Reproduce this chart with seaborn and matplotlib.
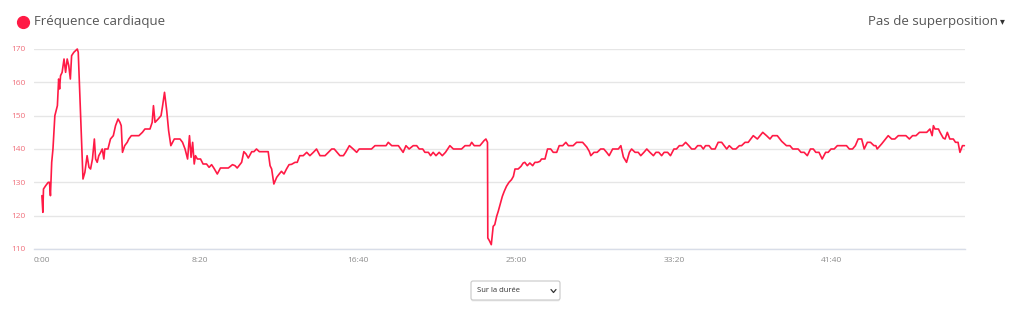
import matplotlib
matplotlib.use("Agg")
import matplotlib.pyplot as plt
import seaborn as sns
import pandas as pd
from matplotlib.patches import FancyBboxPatch
from matplotlib.lines import Line2D
from matplotlib.transforms import IdentityTransform

# ---------------- data ----------------
time_s = [
    0, 3, 5, 12, 20, 24, 27, 31, 35, 41, 49, 53, 56, 59, 64, 70, 75, 80, 85, 90,
    94, 101, 112, 115, 130, 136, 143, 149, 154, 160, 166, 170, 175, 180, 186, 191,
    196, 199, 209, 217, 226, 233, 241, 247, 251, 255, 262, 270, 275, 283, 307, 318,
    326, 342, 349, 353, 358, 368, 377, 382, 388, 395, 401, 408, 419, 437, 445, 453,
    461, 467, 472, 477, 482, 486, 492, 502, 510, 521, 529, 537, 544, 555, 565, 590,
    603, 611, 618, 632, 639, 646, 653, 664, 671, 679, 688, 716, 722, 727, 734, 743,
    751, 758, 766, 774, 782,
    790, 801, 808, 816, 827, 838, 848, 859, 869, 880, 896, 917, 925, 943, 954, 961,
    973, 985, 996, 1004, 1043, 1054, 1089, 1096, 1107, 1128, 1143, 1152, 1162, 1175,
    1186, 1194, 1205, 1212, 1223, 1230, 1238, 1247, 1257, 1267, 1277, 1291, 1302,
    1328, 1339, 1354,
    1360, 1368, 1386, 1399, 1405, 1410, 1411, 1416, 1422, 1428, 1433, 1439, 1444,
    1449, 1457, 1463, 1470, 1478, 1486, 1492, 1497, 1507, 1516, 1523, 1528, 1536,
    1544, 1553, 1560, 1568, 1576, 1581, 1592, 1600, 1610, 1618, 1629, 1637, 1648,
    1658, 1666,
    1681, 1692, 1711, 1724, 1732, 1737, 1747, 1757, 1768, 1778, 1787, 1795, 1806,
    1824, 1832, 1840, 1850, 1859, 1866, 1877, 1887, 1895, 1905, 1914, 1924, 1935,
    1943, 1952, 1961, 1969, 1980, 1989, 2000, 2008, 2017, 2027, 2037, 2047, 2056,
    2066, 2075, 2085, 2093, 2100, 2111, 2119, 2130, 2140, 2151, 2167, 2175, 2186,
    2196, 2207, 2214, 2225, 2235, 2251, 2264, 2281, 2293, 2304, 2312, 2327, 2341,
    2356, 2367,
    2376, 2393, 2402, 2412, 2422, 2432, 2441, 2449, 2459, 2469, 2480, 2488, 2497,
    2507, 2517, 2546, 2555, 2565, 2574, 2583, 2594, 2602, 2612, 2622, 2633, 2639,
    2643, 2657, 2678, 2689, 2699, 2710, 2734, 2745, 2755, 2766, 2777, 2800, 2810,
    2817, 2821, 2826, 2837, 2842, 2852, 2858, 2865, 2873, 2884, 2891, 2899, 2905,
    2913, 2919,
]

heart_rate = [
    126, 121, 128, 129, 130, 130, 126, 136, 140, 150, 153, 161, 158, 162, 163, 167, 163, 167, 165, 161,
    168, 169, 170, 169, 131, 133, 138, 134.5, 134, 137, 143, 137, 136, 138, 139, 140,
    137, 140, 140, 143, 144, 147, 149, 148, 147, 139, 141, 142, 143, 144, 144, 145,
    146, 146, 148, 153, 148, 149, 150, 153, 157, 151.5, 145.5, 141, 143, 143, 142, 140,
    137, 144, 137.5, 142, 135.5, 138, 137, 137, 135.5, 135.5, 134.5, 135.3, 134.3, 132.5, 134.3, 134.3,
    135.3, 135, 134.3, 136, 139.2, 138.5, 137.3, 139.2, 139.2, 140, 139.2, 139.2, 135, 134, 129.5, 131.5,
    132.5, 133.3, 132.5, 134, 135.3,
    135.4, 136, 136, 138, 138, 139, 138, 139, 140, 138, 138, 140, 140, 138, 138, 139,
    141, 140, 139, 140, 140, 141, 141, 142, 141, 141, 139, 141, 140, 141,
    141, 140, 140, 139, 139, 138, 139, 138, 139, 138, 139, 141, 140,
    140, 141, 141,
    142, 141, 141, 142.5, 143, 142, 113.3, 112.5, 111.3, 116.8, 117.3, 119.8, 121.3,
    123, 125.8, 127.3, 128.8, 130, 130.8, 131.8, 134, 134, 134.8, 135.8, 136, 135,
    135.8, 135, 136, 136, 136.3, 137, 137, 140, 140, 139, 139, 141, 141,
    142, 141,
    141, 142, 142, 140.6, 139.3, 138, 139, 139, 140, 140, 139, 138, 140,
    140, 141, 137.6, 136, 139, 140, 139, 139, 138, 139, 140, 139, 138,
    139, 139, 138, 139, 139, 138, 140, 140, 141, 141, 142, 141, 140,
    140, 141, 141, 140, 141, 141, 140, 140, 142, 142, 140, 141, 140,
    140, 141, 141, 142, 142, 144, 143, 145, 144, 143, 144, 144, 142.3,
    141, 141,
    140, 140, 139, 139, 138, 140, 140, 139, 139, 137, 139, 139, 140,
    140, 141, 141, 140, 140, 141, 143, 143, 140, 142, 142, 141, 141,
    140, 141.5, 144, 143, 143, 144, 144, 143, 144, 144, 145, 145, 146,
    144, 147, 146, 146, 145, 143.3, 143, 145, 143, 143, 142, 142, 139,
    141, 141,
]

y_ticks = [110, 120, 130, 140, 150, 160, 170]
x_ticks = [0, 500, 1000, 1500, 2000, 2500]
x_tick_labels = ["0:00", "8:20", "16:40", "25:00", "33:20", "41:40"]
series_label = "Fréquence cardiaque"
overlay_label = "Pas de superposition"
dropdown_label = "Sur la durée"

# ---------------- style ----------------
LINE = "#ff1a45"
sns.set_theme(style="white")
plt.rcParams['font.family'] = ['Open Sans', 'DejaVu Sans']

W, H = 1022, 314
fig = plt.figure(figsize=(W / 100, H / 100), dpi=100)
ax = fig.add_axes([34 / W, 1 - 249 / H, 931 / W, 200 / H])

df = pd.DataFrame({"t": time_s, "hr": heart_rate})
sns.lineplot(data=df, x="t", y="hr", ax=ax, color=LINE, linewidth=1.2,
             estimator=None, sort=False)
for ln in ax.lines:
    ln.set_clip_on(False)
    ln.set_solid_joinstyle("round")
    ln.set_zorder(3)

ax.set_xlim(-25, 2921)
ax.set_ylim(110, 170)
ax.set_yticks(y_ticks)
ax.set_xticks(x_ticks, x_tick_labels)
ax.set_xlabel("")
ax.set_ylabel("")
for s in ax.spines.values():
    s.set_visible(False)
ax.spines["bottom"].set_visible(True)
ax.spines["bottom"].set_color("#d8dde8")
ax.spines["bottom"].set_linewidth(1.0)
ax.set_axisbelow(True)
ax.grid(axis="y", color="#e6e6e6", linewidth=1.0)
ax.grid(axis="x", visible=False)
ax.tick_params(axis="both", length=0)
ax.tick_params(axis="y", labelsize=6, labelcolor="#f0707c", pad=6)
ax.tick_params(axis="x", labelsize=6, labelcolor="#8c8c8c", pad=6)

# legend (top left)
fig.add_artist(Line2D([23 / W], [1 - 22 / H], marker="o", markersize=8.5,
                      color=LINE, linestyle="none", transform=fig.transFigure))
fig.text(34 / W, 1 - 22 / H, series_label, fontsize=9.5, color="#555555",
         ha="left", va="center")

# overlay selector (top right)
fig.text(998 / W, 1 - 22 / H, overlay_label, fontsize=9.5, color="#555555",
         ha="right", va="center")
fig.text(1000 / W, 1 - 21 / H, "▾", fontsize=7, color="#333333",
         ha="left", va="center", family="DejaVu Sans")

# dropdown box (bottom center)
idt = IdentityTransform()
shadow = FancyBboxPatch((471, H - 301.5), 89, 19, boxstyle="round,pad=0,rounding_size=2",
                        facecolor="#eeeeee", edgecolor="none", transform=idt)
box = FancyBboxPatch((471, H - 300), 89, 19, boxstyle="round,pad=0,rounding_size=2",
                     facecolor="white", edgecolor="#c8c8c8", linewidth=0.8, transform=idt)
fig.add_artist(shadow)
fig.add_artist(box)
fig.text(477 / W, 1 - 291 / H, dropdown_label, fontsize=5.5, color="#333333",
         ha="left", va="center")
fig.add_artist(Line2D([551, 553.5, 556], [H - 289.5, H - 292.5, H - 289.5],
                      color="#333333", linewidth=0.9, transform=idt))

fig.savefig("out.png", dpi=100)
